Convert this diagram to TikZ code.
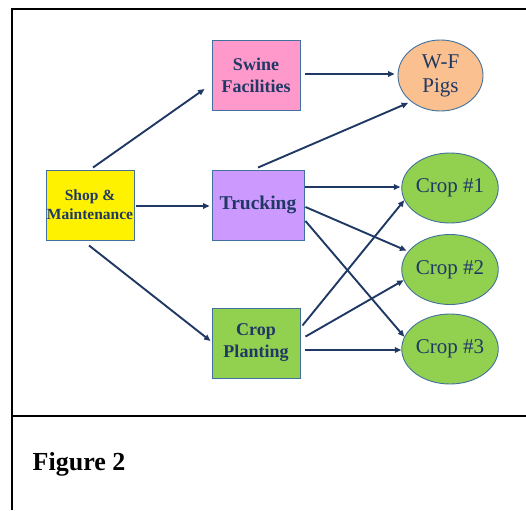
\documentclass[tikz,border=0pt]{standalone}
\usepackage{fontspec}
\setmainfont{Liberation Serif}
\usetikzlibrary{arrows.meta,shapes.geometric}
\definecolor{navy}{RGB}{31,56,100}
\definecolor{edgeblue}{RGB}{65,113,156}
\definecolor{swinepink}{RGB}{255,153,204}
\definecolor{pigpeach}{RGB}{250,192,144}
\definecolor{truckpurple}{RGB}{204,153,255}
\definecolor{cropgreen}{RGB}{146,208,80}
\begin{document}
\begin{tikzpicture}[x=1pt,y=-1pt,
  box/.style={rectangle,draw=edgeblue,line width=0.9pt,minimum width=88pt,minimum height=70pt,
    inner sep=0pt,align=center,text=navy,font=\bfseries\fontsize{18}{22}\selectfont},
  oval/.style={ellipse,draw=edgeblue,line width=0.9pt,fill=cropgreen,minimum width=85pt,minimum height=70pt,
    inner sep=0pt,align=center,text=navy,font=\fontsize{21}{24}\selectfont},
  arr/.style={draw=navy,line width=1.9pt,-{Triangle[length=6.5pt,width=5.5pt]}},
  frame/.style={draw=black,line width=2pt}]
\useasboundingbox (0,0) rectangle (526,510);
% outer frame and divider
\draw[frame] (12,510) -- (12,9.5) -- (526,9.5);
\draw[frame] (12,416) -- (526,416);
% boxes
\node[box,fill=yellow,font=\bfseries\fontsize{15.5}{19}\selectfont] (shop) at (90,205) {Shop \&\\Maintenance};
\node[box,fill=swinepink] (swine) at (256,75) {Swine\\Facilities};
\node[box,fill=truckpurple,minimum width=92pt,font=\bfseries\fontsize{19.5}{22}\selectfont] (truck) at (258,205) {Trucking};
\node[box,fill=cropgreen] (plant) at (256,343) {Crop\\Planting};
% outcomes
\node[oval,fill=pigpeach,minimum height=71pt] (pigs) at (440.5,75.5) {W-F\\Pigs};
\node[oval] (c1) at (450,188) {Crop \#1};
\node[oval] (c2) at (450,269.5) {Crop \#2};
\node[oval] (c3) at (450,349) {Crop \#3};
% connectors
\draw[arr] ([shift={(3,-2)}]shop.north) -- ([shift={(-7,14)}]swine.west);
\draw[arr] ([shift={(2,1)}]shop.east) -- ([shift={(-2,1)}]truck.west);
\draw[arr] ([shift={(-1,5)}]shop.south) -- ([shift={(-1,-2)}]plant.west);
\draw[arr] ([shift={(5,-1)}]swine.east) -- ([shift={(-3,-1.5)}]pigs.west);
\draw[arr] ([shift={(0,-2)}]truck.north) -- ([shift={(-2,2)}]pigs.south west);
\draw[arr] ([shift={(1,-18)}]truck.east) -- ([shift={(-1,-1)}]c1.west);
\draw[arr] ([shift={(1,2)}]truck.east) -- ([shift={(0,-3)}]c2.160);
\draw[arr] ([shift={(1,16)}]truck.east) -- (c3.165);
\draw[arr] ([shift={(2,-17.5)}]plant.east) -- (c1.195);
\draw[arr] ([shift={(5,-6.4)}]plant.east) -- (c2.193);
\draw[arr] ([shift={(5,7)}]plant.east) -- ([shift={(0,1)}]c3.west);
% caption
\node[anchor=base west,inner sep=0pt,font=\bfseries\fontsize{26}{30}\selectfont] (cap) at (32.5,470) {Figure 2};
\end{tikzpicture}
\end{document}
